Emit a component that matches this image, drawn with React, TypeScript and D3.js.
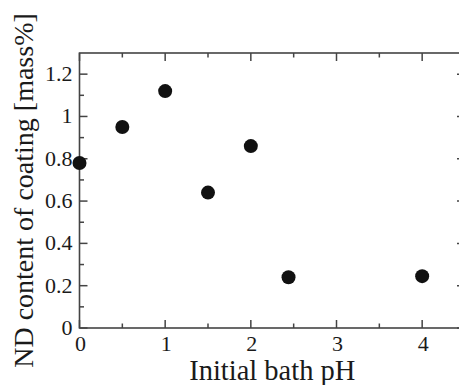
import * as d3 from "d3";

const phValues = [0, 0.5, 1, 1.5, 2, 2.44, 4];
const ndContent = [0.78, 0.95, 1.12, 0.64, 0.86, 0.24, 0.245];
const xMajorTicks = [0, 1, 2, 3, 4];
const xMinorTicks = [0.5, 1.5, 2.5, 3.5];
const yMajorTicks = [0, 0.2, 0.4, 0.6, 0.8, 1, 1.2];
const yMinorTicks = [0.1, 0.3, 0.5, 0.7, 0.9, 1.1];
const yTickLabels = ["0", "0.2", "0.4", "0.6", "0.8", "1", "1.2"];

const WIDTH = 459;
const HEIGHT = 385;
const MARGIN = { top: 53, right: -6, bottom: 57, left: 79.5 };
const FONT = "Liberation Serif, DejaVu Serif, serif";
const AXIS = "#444";

export default function App() {
  const x = d3
    .scaleLinear()
    .domain([0, 4.5])
    .range([MARGIN.left, WIDTH - MARGIN.right]);
  const y = d3
    .scaleLinear()
    .domain([0, 1.3])
    .range([HEIGHT - MARGIN.bottom, MARGIN.top]);

  const [x0, x1] = x.range();
  const [y0, y1] = y.range();
  const major = 8;
  const minor = 4.5;

  return (
    <svg
      width={WIDTH}
      height={HEIGHT}
      style={{ position: "absolute", left: 0, top: 0, background: "#fff", fontFamily: FONT }}
    >
      {/* ticks, inward on all four sides */}
      <g stroke={AXIS} strokeWidth={1.5}>
        {xMajorTicks.map((t) => (
          <g key={"xM" + t}>
            <line x1={x(t)} x2={x(t)} y1={y0} y2={y0 - major} />
            <line x1={x(t)} x2={x(t)} y1={y1} y2={y1 + major} />
          </g>
        ))}
        {xMinorTicks.map((t) => (
          <g key={"xm" + t}>
            <line x1={x(t)} x2={x(t)} y1={y0} y2={y0 - minor} />
            <line x1={x(t)} x2={x(t)} y1={y1} y2={y1 + minor} />
          </g>
        ))}
        {yMajorTicks.map((t) => (
          <g key={"yM" + t}>
            <line x1={x0} x2={x0 + major} y1={y(t)} y2={y(t)} />
            <line x1={x1} x2={x1 - major} y1={y(t)} y2={y(t)} />
          </g>
        ))}
        {yMinorTicks.map((t) => (
          <g key={"ym" + t}>
            <line x1={x0} x2={x0 + minor} y1={y(t)} y2={y(t)} />
            <line x1={x1} x2={x1 - minor} y1={y(t)} y2={y(t)} />
          </g>
        ))}
      </g>
      <rect
        x={x0}
        y={y1}
        width={x1 - x0}
        height={y0 - y1}
        fill="none"
        stroke={AXIS}
        strokeWidth={1.6}
      />

      {/* tick labels */}
      <g fontSize={22} fill="#1a1a1a">
        {xMajorTicks.map((t) => (
          <text key={"xl" + t} x={x(t) + 1} y={y0 + 23} textAnchor="middle">
            {t}
          </text>
        ))}
        {yMajorTicks.map((t, i) => (
          <text
            key={"yl" + t}
            x={x0 - 7}
            y={y(t) + 7}
            textAnchor="end"
          >
            {yTickLabels[i]}
          </text>
        ))}
      </g>

      {/* axis titles */}
      <text
        x={(x0 + x1) / 2}
        y={380}
        textAnchor="middle"
        fontSize={28.5}
        fill="#1a1a1a"
      >
        Initial bath pH
      </text>
      <text
        transform={`translate(33,${(y0 + y1) / 2}) rotate(-90)`}
        textAnchor="middle"
        fontSize={28}
        fill="#1a1a1a"
      >
        ND content of coating [mass%]
      </text>

      {/* data points */}
      <g fill="#111">
        {phValues.map((p, i) => (
          <circle key={i} cx={x(p)} cy={y(ndContent[i])} r={7} />
        ))}
      </g>
    </svg>
  );
}
